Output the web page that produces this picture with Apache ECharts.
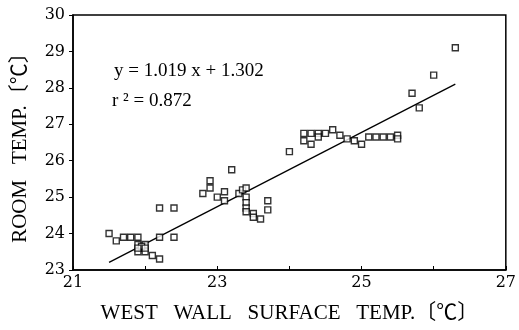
<!DOCTYPE html>
<html><head><meta charset="utf-8">
<script src="https://cdn.jsdelivr.net/npm/echarts@6/dist/echarts.min.js"></script>
<style>html,body{margin:0;padding:0;background:#fff}#c{width:519px;height:330px}</style>
</head><body><div id="c"></div>
<script>
const wallTemp = [21.5,21.6,21.7,21.8,21.9,21.9,21.95,22.0,21.9,22.0,21.95,22.0,21.9,22.1,22.2,22.2,22.4,22.2,22.4,
  22.8,22.9,22.9,23.0,23.1,23.1,23.2,23.3,23.35,23.4,23.4,23.4,23.4,23.4,23.5,23.5,23.6,23.7,23.7,
  24.0,24.2,24.3,24.4,24.5,24.6,24.2,24.3,24.4,24.7,24.8,24.9,25.0,25.1,25.2,25.3,25.4,25.5,25.5,
  25.7,25.8,26.0,26.3];
const roomTemp = [24.0,23.8,23.9,23.9,23.9,23.7,23.6,23.7,23.5,23.5,23.65,23.6,23.6,23.4,23.3,23.9,23.9,24.7,24.7,
  25.1,25.25,25.45,25.0,25.15,24.9,25.75,25.1,25.2,25.25,25.0,24.85,24.7,24.6,24.55,24.45,24.4,24.9,24.65,
  26.25,26.75,26.75,26.75,26.75,26.85,26.55,26.45,26.65,26.7,26.6,26.55,26.45,26.65,26.65,26.65,26.65,26.7,26.6,
  27.85,27.45,28.35,29.1];
const slope = 1.019, intercept = 1.302;
const fitRange = [21.5, 26.3];
const xTicks = [21,22,23,24,25,26,27];
const xLabelShown = [21,23,25,27];
const yTicks = [23,24,25,26,27,28,29,30];

const pts = wallTemp.map((x,i)=>[x, roomTemp[i]]);
const fit = fitRange.map(x=>[x, slope*x+intercept]);
const serif = "'Liberation Serif','Noto Sans CJK JP',serif";

const chart = echarts.init(document.getElementById('c'));
chart.setOption({
  animation:false,
  backgroundColor:'#fff',
  grid:{left:73,right:13,top:15,bottom:60,show:true,borderColor:'#000',borderWidth:1.5},
  xAxis:{type:'value',min:xTicks[0],max:xTicks[xTicks.length-1],interval:1,
    name:'WEST   WALL   SURFACE   TEMP.〔℃〕',nameLocation:'middle',nameGap:33,
    nameTextStyle:{fontFamily:serif,fontSize:21,color:'#000'},
    axisLine:{lineStyle:{color:'#000',width:1.5}},
    axisTick:{inside:true,length:4,lineStyle:{color:'#000',width:1}},
    axisLabel:{margin:5,fontFamily:"'DejaVu Serif',serif",fontSize:16,color:'#000',
      formatter:v=>xLabelShown.includes(v)?String(v):''},
    splitLine:{show:false}},
  yAxis:{type:'value',min:yTicks[0],max:yTicks[yTicks.length-1],interval:1,
    name:'ROOM   TEMP.〔℃〕',nameLocation:'middle',nameGap:42,nameRotate:90,
    nameTextStyle:{fontFamily:serif,fontSize:21,color:'#000'},
    axisLine:{lineStyle:{color:'#000',width:1.5}},
    axisTick:{inside:false,length:4,lineStyle:{color:'#000',width:1}},
    axisLabel:{margin:8,fontFamily:"'DejaVu Serif',serif",fontSize:16,color:'#000'},
    splitLine:{show:false}},
  series:[
    {type:'line',data:fit,symbol:'none',lineStyle:{color:'#000',width:1.3},z:1},
    {type:'scatter',data:pts,symbol:'rect',symbolSize:6,
      itemStyle:{color:'#fff',borderColor:'#000',borderWidth:1.4},z:2}
  ],
  graphic:[
    {type:'text',left:114,top:62,style:{text:'y = 1.019 x + 1.302',font:"19px 'Liberation Serif',serif",fill:'#000'}},
    {type:'text',left:112,top:92,style:{text:'r ² = 0.872',font:"19px 'Liberation Serif',serif",fill:'#000'}}
  ]
});
</script></body></html>
